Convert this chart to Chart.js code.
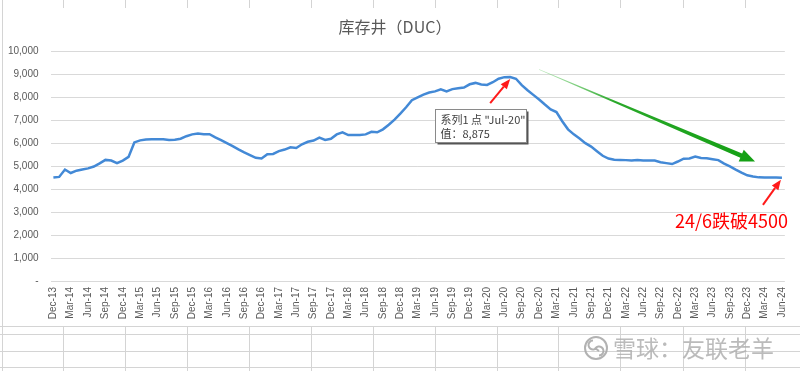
<!DOCTYPE html>
<html>
<head>
<meta charset="utf-8">
<script src="https://cdn.jsdelivr.net/npm/chart.js@4.4.1/dist/chart.umd.min.js"></script>
<style>
  html, body { margin: 0; padding: 0; background: #fff; }
  #wrap { width: 800px; height: 371px; }
</style>
</head>
<body>
<div id="wrap"><canvas id="ducChart" width="800" height="371"></canvas></div>
<script>
// monthly DUC count, Dec-13 .. Jun-24
const ducWells = [
  4500, 4530, 4850, 4700, 4800, 4850, 4900, 4980, 5120, 5270, 5240, 5130,
  5240, 5400, 6030, 6120, 6160, 6170, 6170, 6170, 6140, 6150, 6190, 6300,
  6380, 6420, 6390, 6390, 6250, 6130, 6000, 5870, 5730, 5600, 5480, 5360,
  5330, 5520, 5530, 5650, 5720, 5820, 5790, 5950, 6060, 6110, 6240, 6140,
  6190, 6380, 6470, 6350, 6350, 6350, 6380, 6490, 6470, 6600, 6800, 7020,
  7280, 7560, 7870, 7990, 8110, 8200, 8250, 8340, 8250, 8350, 8390, 8420,
  8560, 8620, 8550, 8530, 8650, 8800, 8870, 8875, 8800, 8520, 8300, 8100,
  7900, 7680, 7470, 7350, 6950, 6600, 6380, 6200, 6000, 5850, 5650, 5450,
  5330, 5280, 5270, 5260, 5240, 5270, 5240, 5240, 5240, 5170, 5130, 5090,
  5200, 5320, 5330, 5420, 5350, 5340, 5300, 5260, 5110, 4990, 4850, 4720,
  4600, 4550, 4510, 4500, 4500, 4500, 4490
];

const monthNames = ['Jan', 'Feb', 'Mar', 'Apr', 'May', 'Jun', 'Jul', 'Aug', 'Sep', 'Oct', 'Nov', 'Dec'];
// categories start at Dec-13
const categories = ducWells.map((v, i) => {
  const m = 11 + i;
  return monthNames[m % 12] + '-' + (13 + Math.floor(m / 12));
});

const yTicks = [0, 1000, 2000, 3000, 4000, 5000, 6000, 7000, 8000, 9000, 10000];
const peakLabel = 'Jul-20';
const noteText = '24/6跌破4500';
const watermark = '雪球：友联老羊';

const cjk = "'Noto Sans CJK SC', sans-serif";

function arrow(ctx, x0, y0, x1, y1, color, width, headLen, headW) {
  const a = Math.atan2(y1 - y0, x1 - x0);
  const bx = x1 - Math.cos(a) * headLen, by = y1 - Math.sin(a) * headLen;
  ctx.save();
  ctx.strokeStyle = color;
  ctx.fillStyle = color;
  ctx.lineWidth = width;
  ctx.beginPath();
  ctx.moveTo(x0, y0);
  ctx.lineTo(bx, by);
  ctx.stroke();
  ctx.beginPath();
  ctx.moveTo(x1, y1);
  ctx.lineTo(bx + Math.sin(a) * headW / 2, by - Math.cos(a) * headW / 2);
  ctx.lineTo(bx - Math.sin(a) * headW / 2, by + Math.cos(a) * headW / 2);
  ctx.closePath();
  ctx.fill();
  ctx.restore();
}

// excel sheet grid behind the chart
const sheetGrid = {
  id: 'sheetGrid',
  beforeDraw(chart) {
    const ctx = chart.ctx;
    ctx.save();
    ctx.fillStyle = '#fff';
    ctx.fillRect(0, 0, 800, 371);
    ctx.strokeStyle = '#d4d4d4';
    ctx.lineWidth = 1;
    const cols = [63, 125, 187, 249, 311, 373, 435, 497, 558, 620, 683, 745];
    ctx.beginPath();
    cols.forEach(c => {
      ctx.moveTo(c + 0.5, 0); ctx.lineTo(c + 0.5, 8);
      ctx.moveTo(c + 0.5, 326); ctx.lineTo(c + 0.5, 371);
    });
    [326, 334, 351, 367].forEach(r => {
      ctx.moveTo(0, r + 0.5); ctx.lineTo(800, r + 0.5);
    });
    ctx.moveTo(2.5, 0); ctx.lineTo(2.5, 371);
    ctx.stroke();
    ctx.restore();
  }
};

const notes = {
  id: 'notes',
  afterDraw(chart) {
    const ctx = chart.ctx;
    const xs = chart.scales.x, ys = chart.scales.y;
    const pi = categories.indexOf(peakLabel);
    const px = xs.getPixelForValue(pi), py = ys.getPixelForValue(ducWells[pi]);

    // data tip box
    const bx = Math.round(px - 75) + 0.5, by = Math.round(py + 32) + 0.5;
    ctx.save();
    ctx.fillStyle = '#555';
    ctx.fillRect(bx + 2, by + 2, 91, 33);
    ctx.fillStyle = '#fff';
    ctx.fillRect(bx, by, 91, 33);
    ctx.strokeStyle = '#8a8a8a';
    ctx.lineWidth = 1;
    ctx.strokeRect(bx, by, 91, 33);
    ctx.fillStyle = '#404040';
    ctx.font = '11px ' + cjk;
    ctx.textBaseline = 'middle';
    ctx.fillText('系列1 点 "' + peakLabel + '"', bx + 5, by + 10);
    ctx.fillText('值：' + ducWells[pi].toLocaleString('en-US'), bx + 5, by + 24);
    ctx.restore();

    arrow(ctx, px - 20, py + 26, px, py + 2, '#ff1a1a', 2, 10, 8);

    // green trend arrow (tapered)
    const gx0 = xs.getPixelForValue(categories.indexOf('Dec-20'));
    const gy0 = ys.getPixelForValue(9200);
    const gx1 = xs.getPixelForValue(categories.indexOf('Jan-24')) + 2;
    const gy1 = ys.getPixelForValue(5200);
    const a = Math.atan2(gy1 - gy0, gx1 - gx0);
    const hl = 15, hw = 13;
    const hx = gx1 - Math.cos(a) * hl, hy = gy1 - Math.sin(a) * hl;
    const nx = Math.sin(a), ny = -Math.cos(a);
    const grad = ctx.createLinearGradient(gx0, gy0, gx1, gy1);
    grad.addColorStop(0, 'rgba(120,210,120,0.5)');
    grad.addColorStop(0.35, '#2aa82a');
    grad.addColorStop(1, '#14a014');
    ctx.save();
    ctx.fillStyle = grad;
    ctx.beginPath();
    ctx.moveTo(gx0 + nx * 0.3, gy0 + ny * 0.3);
    ctx.lineTo(hx + nx * 2.3, hy + ny * 2.3);
    ctx.lineTo(hx + nx * hw / 2, hy + ny * hw / 2);
    ctx.lineTo(gx1, gy1);
    ctx.lineTo(hx - nx * hw / 2, hy - ny * hw / 2);
    ctx.lineTo(hx - nx * 2.3, hy - ny * 2.3);
    ctx.lineTo(gx0 - nx * 0.3, gy0 - ny * 0.3);
    ctx.closePath();
    ctx.fill();
    ctx.restore();

    // last point note
    const li = ducWells.length - 1;
    const lx = xs.getPixelForValue(li), ly = ys.getPixelForValue(ducWells[li]);
    arrow(ctx, lx - 19, ly + 27, lx - 1, ly + 2, '#ff1a1a', 2, 10, 8);
    ctx.save();
    ctx.fillStyle = '#ff0000';
    ctx.font = '18px ' + cjk;
    ctx.textAlign = 'right';
    ctx.textBaseline = 'middle';
    ctx.fillText(noteText, 788, ly + 43);
    ctx.restore();

    // watermark
    ctx.save();
    ctx.strokeStyle = 'rgba(165,165,165,0.85)';
    ctx.lineWidth = 2;
    ctx.beginPath();
    ctx.arc(596, 348, 11, 0, Math.PI * 2);
    ctx.stroke();
    ctx.beginPath();
    ctx.arc(593, 345, 4.5, Math.PI * 0.2, Math.PI * 1.5);
    ctx.moveTo(599, 351);
    ctx.arc(599, 351, 4.5, Math.PI * 1.2, Math.PI * 2.5);
    ctx.stroke();
    ctx.fillStyle = 'rgba(175,175,175,0.85)';
    ctx.font = '23px ' + cjk;
    ctx.textBaseline = 'middle';
    ctx.fillText(watermark, 613, 348);
    ctx.restore();
  }
};

new Chart(document.getElementById('ducChart'), {
  type: 'line',
  data: {
    labels: categories,
    datasets: [{
      label: '系列1',
      data: ducWells,
      borderColor: '#4389d6',
      borderWidth: 2.5,
      pointRadius: 0,
      tension: 0,
      fill: false
    }]
  },
  options: {
    responsive: false,
    animation: false,
    devicePixelRatio: 1,
    layout: { padding: { left: 3, right: 13, top: 0, bottom: 45 } },
    plugins: {
      legend: { display: false },
      tooltip: { enabled: false },
      title: {
        display: true,
        text: '库存井（DUC）',
        color: '#595959',
        font: { family: cjk, size: 16, weight: 'normal' },
        padding: { top: 17, bottom: 15 }
      }
    },
    scales: {
      x: {
        offset: true,
        grid: { display: false, drawTicks: false },
        border: { display: false },
        afterFit: s => { s.height = 45; },
        ticks: {
          autoSkip: false,
          maxRotation: 90,
          minRotation: 90,
          padding: 6,
          color: '#595959',
          font: { family: "'Liberation Sans', sans-serif", size: 10 },
          callback: function (v, i) { return i % 3 === 0 ? categories[i] : ''; }
        }
      },
      y: {
        min: 0,
        max: 10000,
        afterFit: s => { s.width = 47.5; },
        afterBuildTicks: s => { s.ticks = yTicks.map(v => ({ value: v })); },
        grid: { color: '#d9d9d9', lineWidth: 1, drawTicks: false },
        border: { display: false },
        ticks: {
          padding: 12,
          color: '#595959',
          font: { family: "'Liberation Sans', sans-serif", size: 10 },
          callback: v => v === 0 ? '-' : v.toLocaleString('en-US')
        }
      }
    }
  },
  plugins: [sheetGrid, notes]
});
</script>
</body>
</html>
